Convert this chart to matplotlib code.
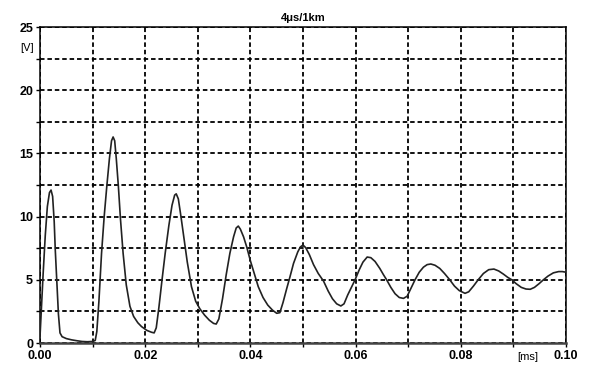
import matplotlib
matplotlib.use("Agg")
import matplotlib.pyplot as plt
from matplotlib.ticker import MultipleLocator

plt.rcParams["font.family"] = ["Liberation Sans", "DejaVu Sans"]

# time axis [ms] and voltage [V] of the surge at the line end
time_ms = [
    0.0000, 0.0003, 0.0006, 0.0010, 0.0014, 0.0018, 0.0021, 0.0024, 0.0027, 0.0029,
    0.0032, 0.0035, 0.0038, 0.0042, 0.0050, 0.0060, 0.0070, 0.0080, 0.0090, 0.0100,
    0.0105, 0.0108, 0.0112, 0.0117, 0.0122, 0.0127, 0.0132, 0.0136, 0.0139, 0.0142,
    0.0145, 0.0149, 0.0153, 0.0158, 0.0164, 0.0171, 0.0178, 0.0186, 0.0193, 0.0203,
    0.0212, 0.0217, 0.0221, 0.0226, 0.0232, 0.0238, 0.0245, 0.0251, 0.0256, 0.0259,
    0.0263, 0.0268, 0.0274, 0.0280, 0.0288, 0.0296, 0.0304, 0.0313, 0.0322, 0.0330,
    0.0335, 0.0340, 0.0347, 0.0354, 0.0361, 0.0368, 0.0373, 0.0377, 0.0381, 0.0387,
    0.0393, 0.0400, 0.0408, 0.0415, 0.0424, 0.0433, 0.0442, 0.0450, 0.0456, 0.0462,
    0.0469, 0.0475, 0.0482, 0.0490, 0.0495, 0.0500, 0.0505, 0.0512, 0.0520, 0.0529,
    0.0539, 0.0548, 0.0556, 0.0564, 0.0572, 0.0578, 0.0585, 0.0592, 0.0599, 0.0607,
    0.0614, 0.0622, 0.0629, 0.0637, 0.0646, 0.0653, 0.0659, 0.0667, 0.0675, 0.0683,
    0.0691, 0.0698, 0.0705, 0.0713, 0.0721, 0.0729, 0.0736, 0.0743, 0.0751, 0.0760,
    0.0769, 0.0779, 0.0788, 0.0797, 0.0808, 0.0815, 0.0824, 0.0833, 0.0843, 0.0853,
    0.0863, 0.0872, 0.0881, 0.0889, 0.0897, 0.0905, 0.0915, 0.0924, 0.0932, 0.0940,
    0.0949, 0.0957, 0.0966, 0.0976, 0.0986, 0.0993, 0.1000,
]
voltage = [
    0.5, 3.0, 5.5, 8.5, 10.8, 11.9, 12.1, 11.6, 9.6, 7.4,
    4.8, 2.3, 0.8, 0.5, 0.35, 0.25, 0.18, 0.12, 0.1, 0.12,
    0.2, 0.9, 3.3, 7.1, 10.0, 12.4, 14.6, 16.0, 16.3, 16.0,
    14.6, 12.4, 9.8, 7.1, 4.6, 2.9, 2.1, 1.6, 1.3, 1.0,
    0.85, 0.8, 1.2, 2.8, 5.0, 7.1, 9.3, 10.9, 11.7, 11.8,
    11.4, 10.0, 8.2, 6.4, 4.45, 3.3, 2.7, 2.2, 1.8, 1.55,
    1.5, 1.9, 3.5, 5.4, 7.1, 8.4, 9.1, 9.25, 9.0, 8.4,
    7.6, 6.5, 5.4, 4.45, 3.6, 3.0, 2.6, 2.35, 2.4, 3.2,
    4.3, 5.2, 6.3, 7.2, 7.6, 7.75, 7.55, 7.0, 6.2, 5.5,
    4.9, 4.1, 3.5, 3.1, 2.93, 3.1, 3.8, 4.4, 5.0, 5.8,
    6.4, 6.8, 6.75, 6.45, 5.9, 5.4, 5.0, 4.4, 3.9, 3.6,
    3.53, 3.7, 4.3, 5.0, 5.6, 6.0, 6.2, 6.25, 6.15, 5.9,
    5.5, 5.0, 4.5, 4.15, 3.93, 4.05, 4.5, 5.0, 5.5, 5.8,
    5.85, 5.7, 5.45, 5.2, 5.0, 4.7, 4.4, 4.27, 4.25, 4.4,
    4.7, 5.0, 5.3, 5.55, 5.65, 5.65, 5.6,
]

x_labels = ["0.00", "0.02", "0.04", "0.06", "0.08", "0.10"]
y_labels = ["0", "5", "10", "15", "20", "25"]

fig = plt.figure(figsize=(5.9, 3.68), dpi=100)
ax = fig.add_axes([40 / 590, 25 / 368, 526 / 590, 316 / 368])

ax.plot(time_ms, voltage, color="#222222", lw=1.2, zorder=3)

ax.set_xlim(0, 0.1)
ax.set_ylim(0, 25)
ax.xaxis.set_major_locator(MultipleLocator(0.02))
ax.xaxis.set_minor_locator(MultipleLocator(0.01))
ax.yaxis.set_major_locator(MultipleLocator(5))
ax.yaxis.set_minor_locator(MultipleLocator(2.5))
ax.set_xticks([float(s) for s in x_labels])
ax.set_xticklabels(x_labels, fontsize=9, fontweight="bold")
ax.set_yticks([float(s) for s in y_labels])
ax.set_yticklabels(y_labels, fontsize=9, fontweight="bold")

ax.grid(which="both", color="black", linestyle=(0, (2.5, 1.6)), lw=1.3)
ax.tick_params(which="both", direction="out", length=3, width=1, pad=2)

for side in ax.spines.values():
    side.set_linewidth(1.1)
ax.spines["bottom"].set_linewidth(1.8)
ax.spines["bottom"].set_color("#444444")

ax.set_title("4\u03bcs/1km", fontsize=8, fontweight="bold", pad=4)
fig.text(27 / 590, 1 - 48 / 368, "[V]", fontsize=8, ha="center", va="center")
fig.text(528 / 590, 1 - 357 / 368, "[ms]", fontsize=8, ha="center", va="center")

fig.savefig("out.png", dpi=100)
